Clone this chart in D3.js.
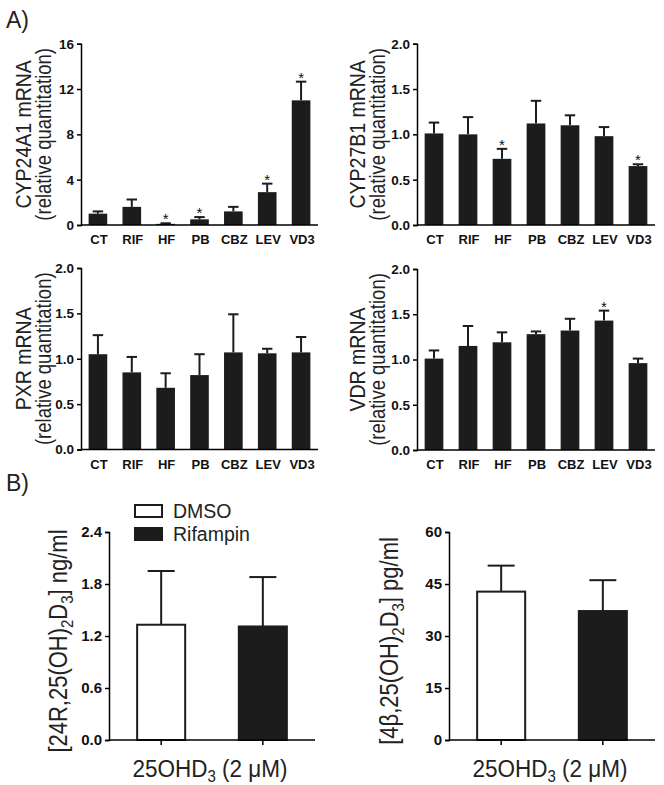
<!DOCTYPE html>
<html>
<head>
<meta charset="utf-8">
<script src="https://cdn.jsdelivr.net/npm/d3@7"></script>
<style>
  body { margin: 0; background: #fff; }
  svg text { font-family: "Liberation Sans", Arial, sans-serif; }
</style>
</head>
<body>
<div id="chart"></div>
<script>
// data
const categories = ["CT", "RIF", "HF", "PB", "CBZ", "LEV", "VD3"];

const cyp24Mean = [1.0, 1.6, 0.1, 0.5, 1.2, 2.9, 11.0];
const cyp24Sem  = [0.2, 0.65, 0.05, 0.2, 0.4, 0.75, 1.65];
const cyp24Sig  = [0, 0, 1, 1, 0, 1, 1];

const cyp27Mean = [1.01, 1.0, 0.73, 1.12, 1.10, 0.98, 0.65];
const cyp27Sem  = [0.12, 0.19, 0.11, 0.25, 0.11, 0.10, 0.02];
const cyp27Sig  = [0, 0, 1, 0, 0, 0, 1];

const pxrMean = [1.05, 0.85, 0.68, 0.82, 1.07, 1.06, 1.07];
const pxrSem  = [0.21, 0.17, 0.16, 0.23, 0.42, 0.05, 0.17];
const pxrSig  = [0, 0, 0, 0, 0, 0, 0];

const vdrMean = [1.01, 1.15, 1.19, 1.28, 1.32, 1.43, 0.96];
const vdrSem  = [0.09, 0.22, 0.11, 0.03, 0.13, 0.11, 0.05];
const vdrSig  = [0, 0, 0, 0, 0, 1, 0];

const groups = ["DMSO", "Rifampin"];
const r24Mean = [1.33, 1.31];
const r24Sem  = [0.62, 0.57];
const b4Mean  = [42.8, 37.2];
const b4Sem   = [7.5, 8.9];

const ticksFold = [0, 0.5, 1.0, 1.5, 2.0];
const ticksCyp24 = [0, 4, 8, 12, 16];
const ticksR24 = [0, 0.6, 1.2, 1.8, 2.4];
const ticksB4 = [0, 15, 30, 45, 60];

const W = 664, H = 785;
const svg = d3.select('#chart').append('svg')
    .attr('width', W).attr('height', H)
    .style('background', '#fff');

const barColor = '#1c1c1c';
const titleStretch = 1.15;   // rotated titles in the source look a bit taller than Arial

function topPanel(o) {
    let x = d3.scaleBand().domain(categories)
        .range([o.x0, o.x1]).paddingInner(0.45).paddingOuter(0.225);
    let y = d3.scaleLinear().domain([0, o.max]).range([o.y0, o.y1]);
    let g = svg.append('g');

    let rows = categories.map((c, i) => ({c: c, m: o.mean[i], s: o.sem[i], sig: o.sig[i]}));

    // error bars (upper only)
    g.selectAll('.err').data(rows).join('line')
        .attr('x1', d => x(d.c) + x.bandwidth() / 2)
        .attr('x2', d => x(d.c) + x.bandwidth() / 2)
        .attr('y1', d => y(d.m)).attr('y2', d => y(d.m + d.s))
        .attr('stroke', barColor).attr('stroke-width', 2);
    g.selectAll('.cap').data(rows).join('line')
        .attr('x1', d => x(d.c) + x.bandwidth() * 0.22)
        .attr('x2', d => x(d.c) + x.bandwidth() * 0.78)
        .attr('y1', d => y(d.m + d.s)).attr('y2', d => y(d.m + d.s))
        .attr('stroke', barColor).attr('stroke-width', 2);

    g.selectAll('rect').data(rows).join('rect')
        .attr('x', d => x(d.c)).attr('width', x.bandwidth())
        .attr('y', d => y(d.m)).attr('height', d => y(0) - y(d.m))
        .attr('fill', barColor);

    g.selectAll('.star').data(rows.filter(d => d.sig)).join('text')
        .attr('x', d => x(d.c) + x.bandwidth() / 2)
        .attr('y', d => y(d.m + d.s) + 1)
        .attr('text-anchor', 'middle').attr('font-size', 15).attr('fill', '#111')
        .text('*');

    let ya = g.append('g').attr('transform', `translate(${o.x0},0)`)
        .call(d3.axisLeft(y).tickValues(o.ticks).tickSize(4).tickPadding(3)
            .tickFormat(o.fmt));
    ya.select('.domain').attr('stroke-width', 1.5);
    ya.selectAll('.tick line').attr('stroke-width', 1.5);
    ya.selectAll('text').attr('font-size', 13.5).attr('font-weight', 'bold')
        .attr('font-family', '"Liberation Sans", Arial, sans-serif').attr('fill', '#111');

    g.append('line').attr('x1', o.x0).attr('x2', o.x1)
        .attr('y1', y(0)).attr('y2', y(0))
        .attr('stroke', '#000').attr('stroke-width', 1.5);

    g.selectAll('.cat').data(categories).join('text')
        .attr('x', d => x(d) + x.bandwidth() / 2 + 1)
        .attr('y', o.y0 + 19)
        .attr('text-anchor', 'middle').attr('font-size', 13)
        .attr('font-weight', 'bold').attr('fill', '#111')
        .text(d => d);

    let cy = (o.y0 + o.y1) / 2;
    g.append('text')
        .attr('transform', `translate(${o.tx},${cy}) rotate(-90) scale(1,${titleStretch})`)
        .attr('text-anchor', 'middle').attr('font-size', 19.5).attr('fill', '#222')
        .text(o.title);
    g.append('text')
        .attr('transform', `translate(${o.tx + 20},${cy}) rotate(-90) scale(1,${titleStretch})`)
        .attr('text-anchor', 'middle').attr('font-size', 18.5).attr('fill', '#222')
        .text('(relative quantitation)');
}

const fmt1 = d3.format('.1f');
topPanel({x0: 81, x1: 318, y0: 225, y1: 43.7, max: 16, ticks: ticksCyp24, fmt: d3.format('d'),
    mean: cyp24Mean, sem: cyp24Sem, sig: cyp24Sig, title: 'CYP24A1 mRNA', tx: 31});
topPanel({x0: 417, x1: 655, y0: 225, y1: 43.7, max: 2, ticks: ticksFold, fmt: fmt1,
    mean: cyp27Mean, sem: cyp27Sem, sig: cyp27Sig, title: 'CYP27B1 mRNA', tx: 365});
topPanel({x0: 81, x1: 318, y0: 449.5, y1: 268, max: 2, ticks: ticksFold, fmt: fmt1,
    mean: pxrMean, sem: pxrSem, sig: pxrSig, title: 'PXR mRNA', tx: 31});
topPanel({x0: 417, x1: 655, y0: 450, y1: 269, max: 2, ticks: ticksFold, fmt: fmt1,
    mean: vdrMean, sem: vdrSem, sig: vdrSig, title: 'VDR mRNA', tx: 365});

function bottomPanel(o) {
    let x = d3.scaleBand().domain(groups)
        .range([o.x0, o.x1]).paddingInner(0.508).paddingOuter(0.267);
    let y = d3.scaleLinear().domain([0, o.max]).range([o.y0, o.y1]);
    let g = svg.append('g');
    let rows = groups.map((c, i) => ({c: c, m: o.mean[i], s: o.sem[i], i: i}));

    g.selectAll('.err').data(rows).join('line')
        .attr('x1', d => x(d.c) + x.bandwidth() / 2)
        .attr('x2', d => x(d.c) + x.bandwidth() / 2)
        .attr('y1', d => y(d.m)).attr('y2', d => y(d.m + d.s))
        .attr('stroke', barColor).attr('stroke-width', 2);
    g.selectAll('.cap').data(rows).join('line')
        .attr('x1', d => x(d.c) + x.bandwidth() * 0.23)
        .attr('x2', d => x(d.c) + x.bandwidth() * 0.77)
        .attr('y1', d => y(d.m + d.s)).attr('y2', d => y(d.m + d.s))
        .attr('stroke', barColor).attr('stroke-width', 2);

    g.selectAll('rect').data(rows).join('rect')
        .attr('x', d => x(d.c) + 1).attr('width', x.bandwidth() - 2)
        .attr('y', d => y(d.m)).attr('height', d => y(0) - y(d.m))
        .attr('fill', d => d.i === 0 ? '#fff' : barColor)
        .attr('stroke', barColor).attr('stroke-width', 2);

    let ya = g.append('g').attr('transform', `translate(${o.x0},0)`)
        .call(d3.axisLeft(y).tickValues(o.ticks).tickSize(4).tickPadding(3).tickFormat(o.fmt));
    ya.select('.domain').attr('stroke-width', 1.5);
    ya.selectAll('.tick line').attr('stroke-width', 1.5);
    ya.selectAll('text').attr('font-size', 15).attr('font-weight', 'bold')
        .attr('font-family', '"Liberation Sans", Arial, sans-serif').attr('fill', '#111');

    let xa = g.append('g').attr('transform', `translate(0,${o.y0})`)
        .call(d3.axisBottom(x).tickSize(5).tickSizeOuter(0).tickFormat(''));
    xa.select('.domain').attr('d', `M${o.x0},0H${o.x1}`).attr('stroke-width', 1.5);
    xa.selectAll('.tick line').attr('stroke-width', 1.5);

    let xl = g.append('text')
        .attr('transform', `translate(${(o.x0 + o.x1) / 2 - 2},${o.y0 + 37}) scale(1,1.05)`)
        .attr('text-anchor', 'middle').attr('font-size', 22.5).attr('fill', '#222');
    xl.append('tspan').text('25OHD');
    xl.append('tspan').attr('font-size', 15).attr('dy', 5).text('3');
    xl.append('tspan').attr('dy', -5).text(' (2 \u03bcM)');

    let cy = (o.y0 + o.y1) / 2 + 5;
    let yl = g.append('text')
        .attr('transform', `translate(${o.tx},${cy}) rotate(-90) scale(1,${titleStretch})`)
        .attr('text-anchor', 'middle').attr('font-size', 22).attr('fill', '#222');
    yl.append('tspan').text(o.pre);
    yl.append('tspan').attr('font-size', 15).attr('dy', 5).text('2');
    yl.append('tspan').attr('dy', -5).text('D');
    yl.append('tspan').attr('font-size', 15).attr('dy', 5).text('3');
    yl.append('tspan').attr('dy', -5).text(o.post);
}

bottomPanel({x0: 109, x1: 315, y0: 740, y1: 532, max: 2.4, ticks: ticksR24, fmt: fmt1,
    mean: r24Mean, sem: r24Sem, tx: 67, pre: '[24R,25(OH)', post: '] ng/ml'});
bottomPanel({x0: 449, x1: 655, y0: 740, y1: 532, max: 60, ticks: ticksB4, fmt: d3.format('d'),
    mean: b4Mean, sem: b4Sem, tx: 398, pre: '[4\u03b2,25(OH)', post: '] pg/ml'});

// legend
const legend = svg.append('g').attr('transform', 'translate(135,505)');
legend.selectAll('rect').data(groups).join('rect')
    .attr('x', 0).attr('y', (d, i) => i * 23)
    .attr('width', 27).attr('height', 12)
    .attr('fill', (d, i) => i === 0 ? '#fff' : barColor)
    .attr('stroke', barColor).attr('stroke-width', 2);
legend.selectAll('text').data(groups).join('text')
    .attr('x', 38).attr('y', (d, i) => i * 23 + 13)
    .attr('font-size', 19.5).attr('fill', '#222')
    .text(d => d);

// panel letters
svg.append('text').attr('x', 6).attr('y', 28).attr('font-size', 23).attr('fill', '#222').text('A)');
svg.append('text').attr('x', 6).attr('y', 491).attr('font-size', 23).attr('fill', '#222').text('B)');
</script>
</body>
</html>
